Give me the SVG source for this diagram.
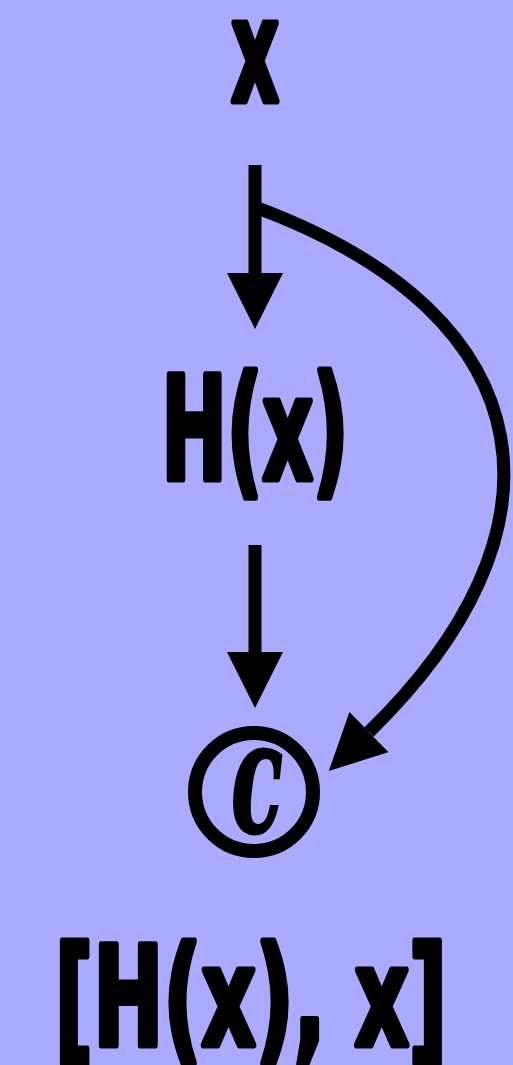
<svg xmlns="http://www.w3.org/2000/svg" width="513" height="1065" viewBox="0 0 513 1065">
<style>
.lbl{font-family:"DejaVu Sans","Liberation Sans",sans-serif;font-weight:bold;font-size:71px;fill:#000;stroke:#000;stroke-width:3.5;stroke-linejoin:round;text-anchor:middle}
.edge{fill:none;stroke:#000;stroke-width:13}
</style>
<defs>
<marker id="ah" markerUnits="userSpaceOnUse" markerWidth="56" markerHeight="56" refX="0" refY="27" orient="auto" viewBox="0 0 54 54">
<path d="M0,0 L54,27 L0,54 Z" fill="#000"/>
</marker>
</defs>
<rect width="513" height="1065" fill="#aaaaff"/>
<g id="node-x"><text class="lbl" transform="translate(255,101) scale(1.04,2)" x="0" y="0">x</text></g>
<g id="node-hx"><text class="lbl" transform="translate(255,479) scale(1.1,2)" x="0" y="0">H(x)</text></g>
<g id="node-c">
<circle cx="254" cy="792" r="59" fill="none" stroke="#000" stroke-width="14"/>
<text transform="translate(257,832) scale(0.55,1)" x="0" y="0" font-family="'DejaVu Serif',serif" font-weight="bold" font-style="italic" font-size="155" text-anchor="middle" stroke="#000" stroke-width="3">c</text>
</g>
<g id="node-out"><text class="lbl" transform="translate(251,1045) scale(1.18,1.94)" x="0" y="0">[H(x), x]</text></g>
<g id="connectors">
<path class="edge" d="M255,165 L255,273" marker-end="url(#ah)"/>
<path class="edge" d="M255,545 L255,652" marker-end="url(#ah)"/>
<path class="edge" d="M255,207 C555,318 572,535 369,732" marker-end="url(#ah)" stroke-width="14"/>
</g>
</svg>
